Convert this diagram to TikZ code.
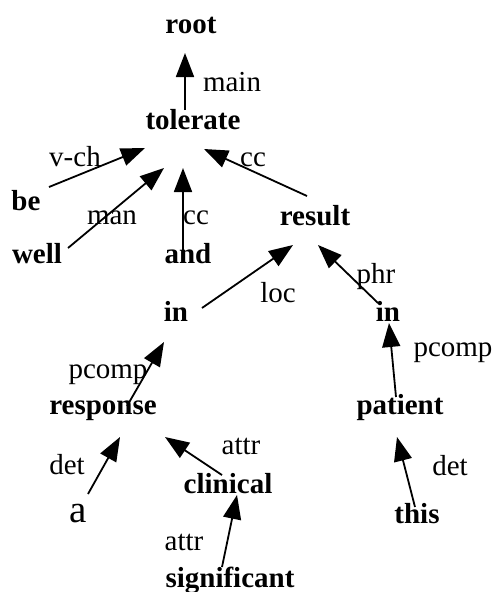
\documentclass[tikz,border=0pt]{standalone}
\usepackage{fontspec}
\setmainfont{Liberation Serif}
\usetikzlibrary{arrows.meta}
\tikzset{
	mot/.style={anchor=base,inner sep=0pt,font=\fontsize{29}{31}\selectfont\bfseries},
	rel/.style={anchor=base,inner sep=0pt,font=\fontsize{29}{31}\selectfont},
	dep/.style={line width=1.8pt,-{Triangle[length=24pt,width=18pt]}}
}

\begin{document}
\begin{tikzpicture}[x=1pt,y=-1pt]
\useasboundingbox (0,0) rectangle (495,592); % same frame as the picture

%Mots (ligne de base)
\node[mot] (root) at (191,33) {root};
\node[mot] (tolerate) at (193,129) {tolerate};
\node[mot] (be) at (26,210) {be};
\node[mot] (result) at (315,225) {result};
\node[mot] (well) at (37,263) {well};
\node[mot] (and) at (188,263) {and};
\node[mot] (inA) at (176,321) {in};
\node[mot] (inB) at (388,321) {in};
\node[mot] (response) at (103,414) {response};
\node[mot] (patient) at (400,414) {patient};
\node[mot] (clinical) at (228,493) {clinical};
\node[anchor=base,inner sep=0pt,font=\fontsize{39}{41}\selectfont] (a) at (78,522) {a};
\node[mot] (this) at (417,523) {this};
\node[mot] (significant) at (230,587) {significant};

%Relations
\node[rel] (lmain) at (232,91) {main};
\node[rel] (lvch) at (75,166) {v-ch};
\node[rel] (lccR) at (253,166) {cc};
\node[rel] (lman) at (112,224) {man};
\node[rel] (lccM) at (196,224) {cc};
\node[rel] (lphr) at (376,283) {phr};
\node[rel] (lloc) at (278,302) {loc};
\node[rel] (lpcompB) at (453,356) {pcomp};
\node[rel] (lpcompA) at (108,378) {pcomp};
\node[rel] (lattrA) at (241,454) {attr};
\node[rel] (ldetA) at (67,474) {det};
\node[rel] (ldetB) at (450,475) {det};
\node[rel] (lattrB) at (184,550) {attr};

%Dependances
\draw[dep] ([shift={(-8,-19)}]tolerate.base) -- ([shift={(-6,20)}]root.base);
\draw[dep] ([shift={(23,-23)}]be.base) -- ([shift={(-48,19)}]tolerate.base);
\draw[dep] ([shift={(31,-15)}]well.base) -- ([shift={(-29,39)}]tolerate.base);
\draw[dep] ([shift={(-5,-11)}]and.base) -- ([shift={(-10,39)}]tolerate.base);
\draw[dep] ([shift={(-8,-29)}]result.base) -- ([shift={(11,20)}]tolerate.base);
\draw[dep] ([shift={(26,-13)}]inA.base) -- ([shift={(-22,20)}]result.base);
\draw[dep] ([shift={(-10,-18)}]inB.base) -- ([shift={(3,20)}]result.base);
\draw[dep] ([shift={(24,-8)}]response.base) -- ([shift={(-12,21)}]inA.base);
\draw[dep] ([shift={(-4,-17)}]patient.base) -- ([shift={(1,2)}]inB.base);
\draw[dep] ([shift={(10,-28)}]a.base) -- ([shift={(17,23)}]response.base);
\draw[dep] ([shift={(-6,-18)}]clinical.base) -- ([shift={(62,23)}]response.base);
\draw[dep] ([shift={(-8,-20)}]significant.base) -- ([shift={(9,2)}]clinical.base);
\draw[dep] ([shift={(-2,-16)}]this.base) -- ([shift={(-3,23)}]patient.base);

\end{tikzpicture}
\end{document}
